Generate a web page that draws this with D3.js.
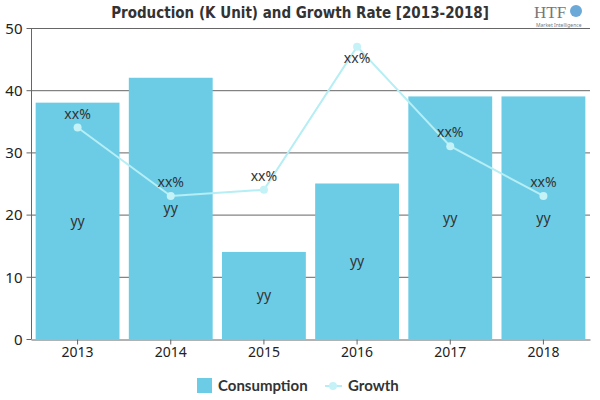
<!DOCTYPE html>
<html>
<head>
<meta charset="utf-8">
<script src="https://cdn.jsdelivr.net/npm/d3@7"></script>
<style>
  body { margin: 0; background: #fff; }
  text { font-family: "Noto Sans", "Open Sans", sans-serif; }
</style>
</head>
<body>
<div id="chart"></div>
<script>
// values
var years = ["2013", "2014", "2015", "2016", "2017", "2018"];
var consumption = [38, 42, 14, 25, 39, 39];
var growth = [34, 23, 24, 47, 31, 23];
var barLabels = ["yy", "yy", "yy", "yy", "yy", "yy"];
var growthLabels = ["xx%", "xx%", "xx%", "xx%", "xx%", "xx%"];
var yTicks = [0, 10, 20, 30, 40, 50];

var cfg = {
  w: 600,
  h: 400,
  left: 31,
  right: 590,
  top: 28,
  bot: 339
};

var svg = d3.select("#chart")
  .append("svg")
  .attr("width", cfg.w)
  .attr("height", cfg.h);

var x = d3.scaleBand()
  .domain(years)
  .range([cfg.left, cfg.right])
  .paddingInner(0.1)
  .paddingOuter(0.05);

var y = d3.scaleLinear()
  .domain([0, 50])
  .range([cfg.bot, cfg.top]);

// gridlines (behind bars)
svg.append("g")
  .selectAll("line")
  .data(yTicks.slice(1))
  .enter().append("line")
  .attr("x1", cfg.left)
  .attr("x2", cfg.right)
  .attr("y1", function(d) { return y(d) + 0.5; })
  .attr("y2", function(d) { return y(d) + 0.5; })
  .style("stroke", "#666")
  .style("stroke-width", 1);

// bars
svg.append("g")
  .selectAll("rect")
  .data(consumption)
  .enter().append("rect")
  .attr("x", function(d, i) { return x(years[i]); })
  .attr("y", function(d) { return y(d); })
  .attr("width", x.bandwidth())
  .attr("height", function(d) { return y(0) - y(d); })
  .style("fill", "#6ccce6");

// y axis
var yAxis = svg.append("g")
  .attr("transform", "translate(" + (cfg.left + 0.5) + ",0)")
  .call(d3.axisLeft(y).tickValues(yTicks).tickSize(5).tickPadding(4));
yAxis.select(".domain").style("stroke", "#666").attr("d", "M0," + cfg.top + "V" + cfg.bot);
yAxis.selectAll(".tick line").style("stroke", "#666");
yAxis.selectAll("text")
  .style("font-size", "15px")
  .style("fill", "#222")
  .attr("dy", "0.35em");

// x axis
var xAxis = svg.append("g")
  .attr("transform", "translate(0," + (cfg.bot + 0.5) + ")")
  .call(d3.axisBottom(x).tickSize(5).tickSizeOuter(0).tickPadding(3));
xAxis.select(".domain").style("stroke", "#666");
xAxis.selectAll(".tick line").style("stroke", "#666");
xAxis.selectAll("text")
  .style("font-size", "14px")
  .style("fill", "#222");

// bar labels in the middle of each bar
svg.append("g")
  .selectAll("text")
  .data(consumption)
  .enter().append("text")
  .attr("x", function(d, i) { return x(years[i]) + x.bandwidth() / 2; })
  .attr("y", function(d) { return y(d / 2); })
  .attr("dy", "0.35em")
  .attr("text-anchor", "middle")
  .style("font-size", "14px")
  .style("fill", "#333")
  .text(function(d, i) { return barLabels[i]; });

// growth line
var line = d3.line()
  .x(function(d, i) { return x(years[i]) + x.bandwidth() / 2; })
  .y(function(d) { return y(d); });

svg.append("path")
  .datum(growth)
  .attr("d", line)
  .style("fill", "none")
  .style("stroke", "#b5eef4")
  .style("stroke-width", 2);

svg.append("g")
  .selectAll("circle")
  .data(growth)
  .enter().append("circle")
  .attr("cx", function(d, i) { return x(years[i]) + x.bandwidth() / 2; })
  .attr("cy", function(d) { return y(d); })
  .attr("r", 4)
  .style("fill", "#c4f2f7");

// label goes above the point, unless it would run into the top of the plot
svg.append("g")
  .selectAll("text")
  .data(growth)
  .enter().append("text")
  .attr("x", function(d, i) { return x(years[i]) + x.bandwidth() / 2; })
  .attr("y", function(d) {
    var above = y(d) - 9;
    return above - 12 < cfg.top ? y(d) + 16 : above;
  })
  .attr("text-anchor", "middle")
  .style("font-size", "14px")
  .style("fill", "#333")
  .text(function(d, i) { return growthLabels[i]; });

// title
svg.append("text")
  .attr("x", 300)
  .attr("y", 18)
  .attr("text-anchor", "middle")
  .style("font-family", "'DejaVu Sans Condensed', 'Liberation Sans Narrow', sans-serif")
  .style("font-weight", "bold")
  .style("font-size", "15px")
  .style("fill", "#333")
  .text("Production (K Unit) and Growth Rate [2013-2018]");

// small logo in the corner
var logo = svg.append("g").attr("transform", "translate(534,0)");
logo.append("text")
  .attr("x", 0).attr("y", 18)
  .style("font-family", "'Liberation Serif', serif")
  .style("font-size", "17px")
  .style("fill", "#777")
  .text("HTF");
logo.append("circle")
  .attr("cx", 42).attr("cy", 11).attr("r", 6)
  .style("fill", "#6aa9d8");
logo.append("text")
  .attr("x", 2).attr("y", 27)
  .style("font-size", "5px")
  .style("fill", "#777")
  .text("Market Intelligence");

// legend
var legend = svg.append("g");
legend.append("rect")
  .attr("x", 197).attr("y", 378)
  .attr("width", 15).attr("height", 15)
  .style("fill", "#6ccce6");
legend.append("text")
  .attr("x", 218).attr("y", 391)
  .style("font-family", "Lato, sans-serif")
  .style("font-weight", "bold")
  .style("font-size", "15px")
  .style("fill", "#333")
  .text("Consumption");
legend.append("line")
  .attr("x1", 325).attr("x2", 342)
  .attr("y1", 386).attr("y2", 386)
  .style("stroke", "#b5eef4")
  .style("stroke-width", 2);
legend.append("circle")
  .attr("cx", 333).attr("cy", 386).attr("r", 4)
  .style("fill", "#c4f2f7");
legend.append("text")
  .attr("x", 348).attr("y", 391)
  .style("font-family", "Lato, sans-serif")
  .style("font-weight", "bold")
  .style("font-size", "15px")
  .style("fill", "#333")
  .text("Growth");
</script>
</body>
</html>
